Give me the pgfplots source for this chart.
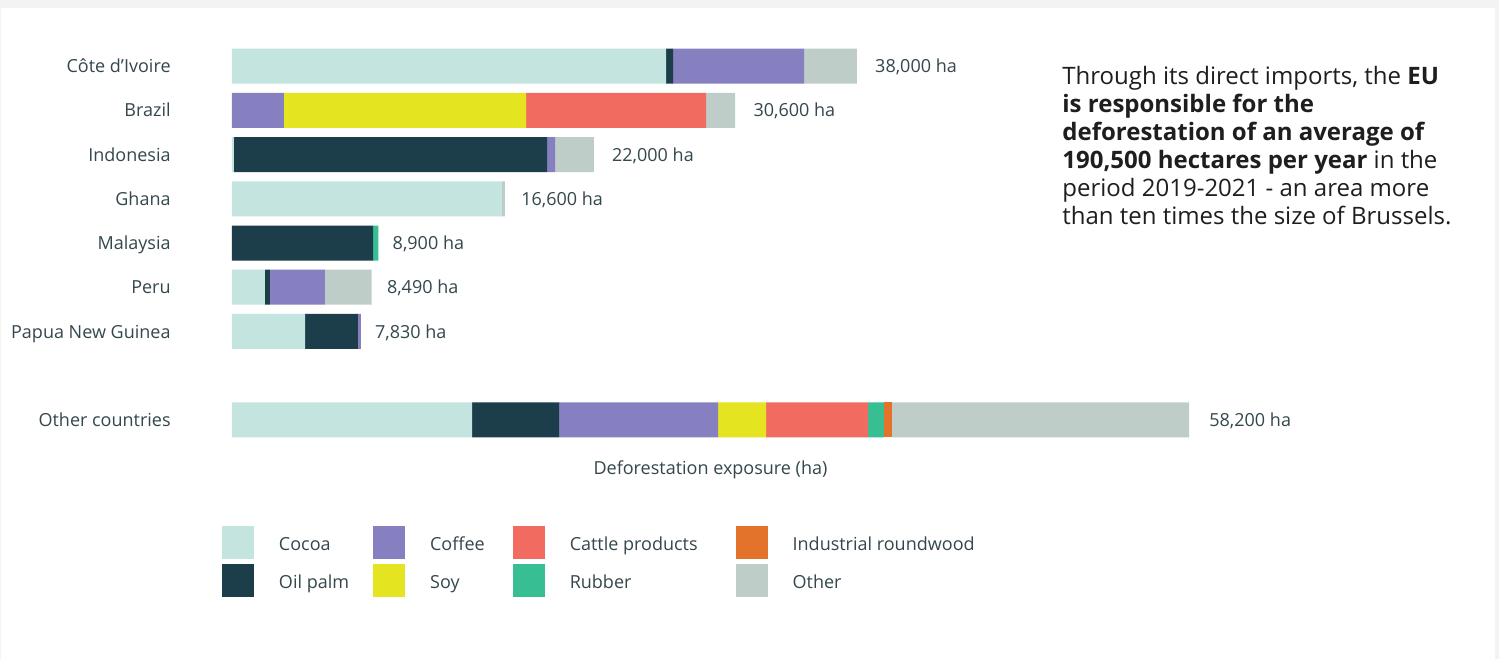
\documentclass[border=0pt]{standalone}
\usepackage{pgfplots}
\pgfplotsset{compat=1.18}
\usepackage{pgfplotstable}
\usepackage{fontspec}
\setmainfont{Open Sans}
\newfontfamily\osans{Open Sans}
\definecolor{framegrey}{HTML}{F3F3F3}
\definecolor{txt}{HTML}{34474C}
\definecolor{para}{HTML}{1E1E1E}
\definecolor{cocoa}{HTML}{C4E5DF}
\definecolor{oilpalm}{HTML}{1B3E4A}
\definecolor{coffee}{HTML}{8680C0}
\definecolor{soy}{HTML}{E4E421}
\definecolor{cattle}{HTML}{F26B60}
\definecolor{rubber}{HTML}{38BE93}
\definecolor{wood}{HTML}{E3722A}
\definecolor{other}{HTML}{BFCDC8}

\pgfplotstableread{
row cocoa oilpalm coffee soy cattle rubber wood other total
0 26400 430 7970 0 0 0 0 3200 38000
1 0 0 3160 14720 10950 0 0 1770 30600
2 120 19040 490 0 0 0 0 2350 22000
3 16420 0 0 0 0 0 0 180 16600
4 0 8580 0 0 0 320 0 0 8900
5 2000 300 3350 0 0 0 0 2840 8490
6 4440 3220 170 0 0 0 0 0 7830
8 14600 5290 9670 2920 6200 970 490 18060 58200
}\datatable

\tikzset{lab/.style={inner sep=0pt, text=txt, font=\fontsize{9}{10}\selectfont}}

\begin{document}
\begin{tikzpicture}
\fill[framegrey] (0,0) rectangle (749.5pt,329.5pt);
\fill[white] (0.5pt,0) rectangle (747.5pt,325.5pt);
\begin{axis}[
  at={(116pt,108.45pt)}, anchor=south west,
  scale only axis, width=478.5pt, height=199.1pt,
  xbar stacked, bar width=17.5pt,
  xmin=0, xmax=58200, ymin=-0.5, ymax=8.5, y dir=reverse,
  axis line style={draw=none}, tick style={draw=none},
  xtick=\empty, ytick=\empty, clip=false,
  legend columns=4, legend cell align=left,
  legend style={at={(-0.01045,-0.2107)}, anchor=north west, draw=none, fill=none,
    inner sep=0pt, outer sep=0pt, row sep=2.5pt,
    font=\fontsize{9}{10}\selectfont, text=txt,
    nodes={inner sep=0pt},
    /tikz/every odd column/.append style={column sep=12.5pt},
    /tikz/every even column/.append style={column sep=12pt}},
  legend image code/.code={\fill[#1] (0pt,-6.7pt) rectangle (16pt,9.8pt);},
]
\addplot[fill=cocoa, draw=none, forget plot] table[x=cocoa, y=row]{\datatable};
\addplot[fill=oilpalm, draw=none, forget plot] table[x=oilpalm, y=row]{\datatable};
\addplot[fill=coffee, draw=none, forget plot] table[x=coffee, y=row]{\datatable};
\addplot[fill=soy, draw=none, forget plot] table[x=soy, y=row]{\datatable};
\addplot[fill=cattle, draw=none, forget plot] table[x=cattle, y=row]{\datatable};
\addplot[fill=rubber, draw=none, forget plot] table[x=rubber, y=row]{\datatable};
\addplot[fill=wood, draw=none, forget plot] table[x=wood, y=row]{\datatable};
\addplot[fill=other, draw=none, forget plot] table[x=other, y=row]{\datatable};

\addlegendimage{fill=cocoa, draw=none}
\addlegendentry{Cocoa}
\addlegendimage{fill=coffee, draw=none}
\addlegendentry{Coffee\hspace*{2pt}}
\addlegendimage{fill=cattle, draw=none}
\addlegendentry{Cattle products\hspace*{7pt}}
\addlegendimage{fill=wood, draw=none}
\addlegendentry{Industrial roundwood}
\addlegendimage{fill=oilpalm, draw=none}
\addlegendentry{Oil palm}
\addlegendimage{fill=soy, draw=none}
\addlegendentry{Soy}
\addlegendimage{fill=rubber, draw=none}
\addlegendentry{Rubber}
\addlegendimage{fill=other, draw=none}
\addlegendentry{Other}

\node[lab, anchor=base east, xshift=-30.5pt, yshift=-3.3pt] at (axis cs:0,0) {Côte d\symbol{39}Ivoire};
\node[lab, anchor=base east, xshift=-30.5pt, yshift=-3.3pt] at (axis cs:0,1) {Brazil};
\node[lab, anchor=base east, xshift=-30.5pt, yshift=-3.3pt] at (axis cs:0,2) {Indonesia};
\node[lab, anchor=base east, xshift=-30.5pt, yshift=-3.3pt] at (axis cs:0,3) {Ghana};
\node[lab, anchor=base east, xshift=-30.5pt, yshift=-3.3pt] at (axis cs:0,4) {Malaysia};
\node[lab, anchor=base east, xshift=-30.5pt, yshift=-3.3pt] at (axis cs:0,5) {Peru};
\node[lab, anchor=base east, xshift=-30.5pt, yshift=-3.3pt] at (axis cs:0,6) {Papua New Guinea};
\node[lab, anchor=base east, xshift=-30.5pt, yshift=-3.3pt] at (axis cs:0,8) {Other countries};
\node[lab, anchor=base west, xshift=9pt, yshift=-3.3pt] at (axis cs:38000,0) {38,000 ha};
\node[lab, anchor=base west, xshift=9pt, yshift=-3.3pt] at (axis cs:30600,1) {30,600 ha};
\node[lab, anchor=base west, xshift=9pt, yshift=-3.3pt] at (axis cs:22000,2) {22,000 ha};
\node[lab, anchor=base west, xshift=8pt, yshift=-3.3pt] at (axis cs:16600,3) {16,600 ha};
\node[lab, anchor=base west, xshift=7pt, yshift=-3.3pt] at (axis cs:8900,4) {8,900 ha};
\node[lab, anchor=base west, xshift=7.5pt, yshift=-3.3pt] at (axis cs:8490,5) {8,490 ha};
\node[lab, anchor=base west, xshift=7pt, yshift=-3.3pt] at (axis cs:7830,6) {7,830 ha};
\node[lab, anchor=base west, xshift=10pt, yshift=-3.3pt] at (axis cs:58200,8) {58,200 ha};
\node[lab, anchor=base, yshift=-16pt] at (axis cs:29100,8.5) {Deforestation exposure (ha)};
\end{axis}
\node[anchor=base west, align=left, inner sep=0pt, text=para,
  font=\osans\fontsize{12}{14.05}\selectfont] at (531pt,217pt)
  {Through its direct imports, the \textbf{EU}\\
   \textbf{is responsible for the}\\
   \textbf{deforestation of an average of}\\
   \textbf{190,500 hectares per year} in the\\
   period 2019-2021 - an area more\\
   than ten times the size of Brussels.};
\end{tikzpicture}
\end{document}
